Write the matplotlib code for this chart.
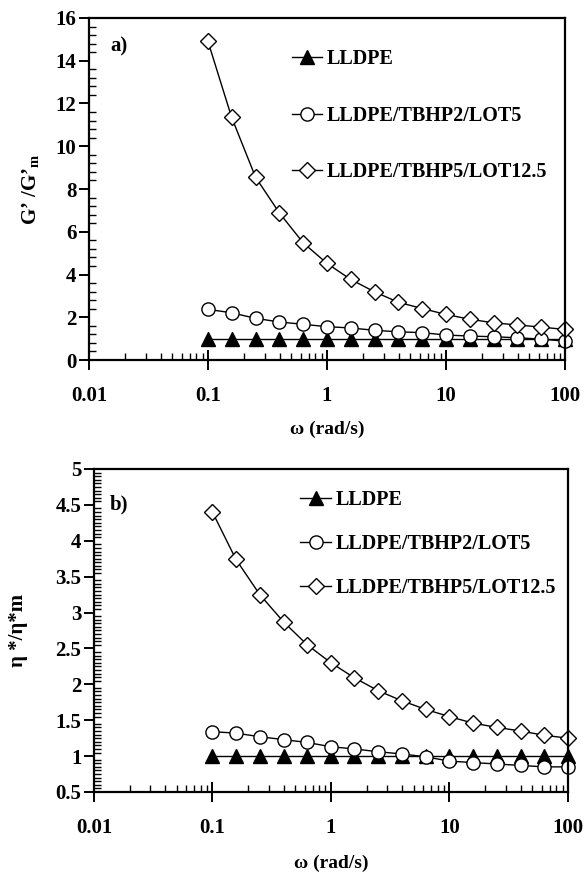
import matplotlib
matplotlib.use("Agg")
import matplotlib.pyplot as plt
from matplotlib.ticker import LogLocator, MultipleLocator, FixedLocator, FixedFormatter, FuncFormatter

plt.rcParams['font.family'] = ['Liberation Serif', 'DejaVu Serif']
plt.rcParams['font.weight'] = 'bold'
plt.rcParams['mathtext.fontset'] = 'custom'
plt.rcParams['mathtext.rm'] = 'Liberation Serif'
plt.rcParams['mathtext.bf'] = 'Liberation Serif:bold'

# angular frequency (rad/s)
omega = [0.1, 0.158, 0.251, 0.398, 0.631, 1.0, 1.58, 2.51, 3.98, 6.31,
         10.0, 15.8, 25.1, 39.8, 63.1, 100.0]

series_names = ['LLDPE', 'LLDPE/TBHP2/LOT5', 'LLDPE/TBHP5/LOT12.5']

# a) G'/G'm
g_lldpe = [1.0] * 16
g_tbhp2 = [2.37, 2.21, 1.95, 1.78, 1.67, 1.56, 1.50, 1.39, 1.32, 1.28,
           1.17, 1.12, 1.09, 1.04, 0.98, 0.88]
g_tbhp5 = [14.9, 11.35, 8.55, 6.88, 5.48, 4.52, 3.77, 3.19, 2.70, 2.41,
           2.13, 1.91, 1.74, 1.64, 1.54, 1.43]

# b) eta*/eta*m
eta_lldpe = [1.0] * 16
eta_tbhp2 = [1.34, 1.32, 1.27, 1.23, 1.19, 1.13, 1.10, 1.06, 1.03, 0.99,
             0.93, 0.91, 0.89, 0.87, 0.85, 0.85]
eta_tbhp5 = [4.40, 3.74, 3.25, 2.87, 2.55, 2.30, 2.09, 1.91, 1.77, 1.65,
             1.55, 1.46, 1.40, 1.35, 1.29, 1.25]

xticks = [0.01, 0.1, 1, 10, 100]
xtick_labels = ['0.01', '0.1', '1', '10', '100']

styles = [
    dict(marker='^', markersize=10, markerfacecolor='black', markeredgecolor='black'),
    dict(marker='o', markersize=9.5, markerfacecolor='white', markeredgecolor='black', markeredgewidth=1.0),
    dict(marker='D', markersize=8, markerfacecolor='white', markeredgecolor='black', markeredgewidth=1.0),
]

fig = plt.figure(figsize=(5.87, 8.73), dpi=100)
ax1 = fig.add_axes([0.1516, 0.5876, 0.811, 0.3918])
ax2 = fig.add_axes([0.160, 0.0928, 0.8075, 0.370])


def style_axes(ax, ylim, ymajor, yminor):
    ax.set_xscale('log')
    ax.set_xlim(0.01, 100)
    ax.set_ylim(*ylim)
    ax.xaxis.set_major_locator(FixedLocator(xticks))
    ax.xaxis.set_major_formatter(FixedFormatter(xtick_labels))
    ax.xaxis.set_minor_locator(LogLocator(base=10, subs=range(2, 10)))
    ax.yaxis.set_major_locator(MultipleLocator(ymajor))
    ax.yaxis.set_minor_locator(MultipleLocator(yminor))
    ax.yaxis.set_major_formatter(FuncFormatter(lambda v, p: '%g' % round(v, 3)))
    for s in ax.spines.values():
        s.set_linewidth(1.6)
    ax.tick_params(axis='x', which='major', direction='inout', length=14, width=1.4,
                   labelsize=15, pad=12)
    ax.tick_params(axis='x', which='minor', direction='in', length=5, width=1.0)
    ax.tick_params(axis='y', which='major', direction='out', length=7, width=1.4,
                   labelsize=15, pad=2)
    ax.tick_params(axis='y', which='minor', direction='in', length=5, width=1.0)
    ax.tick_params(top=False, right=False, which='both')


def draw(ax, ys):
    for name, y, st in zip(series_names, ys, styles):
        ax.plot(omega, y, color='black', linewidth=1.0, label=name, clip_on=False, **st)


draw(ax1, [g_lldpe, g_tbhp2, g_tbhp5])
style_axes(ax1, (0, 16), 2, 0.4)
ax1.set_xlabel('ω (rad/s)', fontsize=14, fontweight='bold', labelpad=10)
ax1.set_ylabel("G’ /G’$_{\\mathbf{m}}$", fontsize=15, fontweight='bold', labelpad=10)
ax1.text(0.044, 0.916, 'a)', transform=ax1.transAxes, fontsize=15, fontweight='bold',
         va='center', ha='left')
ax1.legend(loc='upper left', bbox_to_anchor=(0.426, 0.908), frameon=False,
           handlelength=1.5, handletextpad=0.25, labelspacing=1.8,
           borderpad=0, borderaxespad=0, prop={'weight': 'bold', 'size': 14.5})

draw(ax2, [eta_lldpe, eta_tbhp2, eta_tbhp5])
style_axes(ax2, (0.5, 5), 0.5, 0.05)
ax2.set_xlabel('ω (rad/s)', fontsize=14, fontweight='bold', labelpad=12)
ax2.set_ylabel('η */η*m', fontsize=15, fontweight='bold', labelpad=20)
ax2.text(0.034, 0.889, 'b)', transform=ax2.transAxes, fontsize=15, fontweight='bold',
         va='center', ha='left')
ax2.legend(loc='upper left', bbox_to_anchor=(0.435, 0.934), frameon=False,
           handlelength=1.55, handletextpad=0.2, labelspacing=1.18,
           borderpad=0, borderaxespad=0, prop={'weight': 'bold', 'size': 14.5})

fig.savefig('out.png', dpi=100)
